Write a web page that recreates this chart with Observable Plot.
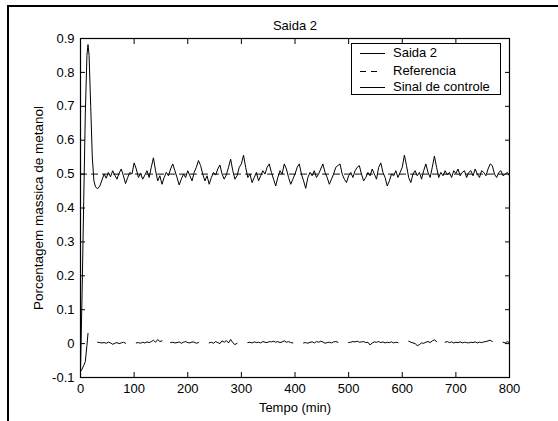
<!DOCTYPE html>
<html>
<head>
<meta charset="utf-8">
<script src="https://cdn.jsdelivr.net/npm/d3@7"></script>
<script src="https://cdn.jsdelivr.net/npm/@observablehq/plot@0.6"></script>
<style>
  html, body { margin: 0; padding: 0; background: white; }
  #wrap { position: relative; width: 558px; height: 421px; overflow: hidden; font-family: "Liberation Sans", Arial, sans-serif; }
  #frameTop { position: absolute; left: 7px; top: 5px; width: 560px; height: 2px; background: black; }
  #frameLeft { position: absolute; left: 7px; top: 5px; width: 2px; height: 430px; background: black; }
  #legend { position: absolute; left: 351px; top: 43px; width: 150px; height: 52px; box-sizing: border-box; border: 1px solid black; background: white; }
  #legend .row { position: absolute; left: 0; height: 16px; width: 148px; }
  #legend svg { position: absolute; left: 7px; top: 0; }
  #legend span { position: absolute; left: 41px; top: 0; font-size: 13px; line-height: 16px; white-space: nowrap; color: black; }
</style>
</head>
<body>
<div id="wrap"></div>
<script>
// ---- data ----
const chartTitle = "Saida 2";
const xLabel = "Tempo (min)";
const yLabel = "Porcentagem massica de metanol";
const seriesNames = ["Saida 2", "Referencia", "Sinal de controle"];

const xTicks = [0, 100, 200, 300, 400, 500, 600, 700, 800];
const xTickLabels = ["0", "100", "200", "300", "400", "500", "600", "700", "800"];
const yTicks = [-0.1, 0, 0.1, 0.2, 0.3, 0.4, 0.5, 0.6, 0.7, 0.8, 0.9];
const yTickLabels = ["-0.1", "0", "0.1", "0.2", "0.3", "0.4", "0.5", "0.6", "0.7", "0.8", "0.9"];

const timeEarly = [0, 3, 6, 9, 12, 14, 16, 19, 22, 25, 28, 32, 36, 40];
const timeGrid = d3.range(44, 801, 4);
const time = timeEarly.concat(timeGrid);

const saida2 = [
  -0.08, 0.15, 0.42, 0.68, 0.85, 0.882, 0.85, 0.70, 0.55, 0.48, 0.462, 0.457, 0.465, 0.482,
  0.500, 0.488, 0.505, 0.492, 0.510, 0.497, 0.485, 0.503, 0.515, 0.495,
  0.472, 0.490, 0.505, 0.500, 0.533, 0.515, 0.490, 0.502, 0.485, 0.497,
  0.510, 0.490, 0.520, 0.548, 0.510, 0.480, 0.495, 0.470, 0.490, 0.505,
  0.495, 0.515, 0.530, 0.510, 0.490, 0.468, 0.485, 0.500, 0.490, 0.510,
  0.495, 0.480, 0.505, 0.520, 0.540, 0.525, 0.500, 0.480, 0.495, 0.470,
  0.490, 0.505, 0.497, 0.515, 0.527, 0.500, 0.485, 0.498, 0.520, 0.544,
  0.510, 0.485, 0.495, 0.520, 0.530, 0.556, 0.520, 0.490, 0.500, 0.475,
  0.490, 0.505, 0.480, 0.495, 0.510, 0.500, 0.520, 0.530, 0.505, 0.485,
  0.465, 0.490, 0.510, 0.500, 0.530, 0.515, 0.490, 0.470, 0.485, 0.500,
  0.520, 0.530, 0.500, 0.480, 0.458, 0.490, 0.505, 0.495, 0.510, 0.490,
  0.500, 0.515, 0.530, 0.505, 0.490, 0.470, 0.485, 0.500, 0.520, 0.525,
  0.530, 0.500, 0.485, 0.475, 0.495, 0.505, 0.490, 0.510, 0.520, 0.525,
  0.500, 0.480, 0.490, 0.505, 0.495, 0.515, 0.500, 0.485, 0.520, 0.533,
  0.505, 0.490, 0.465, 0.480, 0.500, 0.495, 0.510, 0.490, 0.505, 0.520,
  0.556, 0.525, 0.490, 0.475, 0.500, 0.510, 0.495, 0.505, 0.485, 0.510,
  0.530, 0.505, 0.490, 0.520, 0.553, 0.520, 0.490, 0.505, 0.495, 0.510,
  0.498, 0.505, 0.490, 0.510, 0.502, 0.515, 0.495, 0.505, 0.510, 0.490,
  0.505, 0.510, 0.495, 0.515, 0.500, 0.490, 0.510, 0.505, 0.495, 0.515,
  0.530, 0.525, 0.500, 0.490, 0.505, 0.510, 0.495, 0.500, 0.505, 0.495
];

const referencia = time.map(() => 0.5);

const controle = [
  -0.083, -0.075, -0.065, -0.053, -0.005, 0.03, null, null, null, null, null, 0.004, 0.003, 0.002,
  0.003, 0.001, 0.004, 0.002, -0.002, 0.001, 0.003, 0.000, 0.002, 0.004,
  0.001, null, null, null, null, 0.002, 0.003, 0.001, 0.004, 0.002,
  0.005, 0.003, 0.006, 0.010, 0.004, 0.012, 0.006, 0.008, null, null,
  null, 0.003, 0.004, 0.002, 0.003, 0.005, 0.001, 0.004, 0.006, 0.003,
  0.002, 0.005, 0.004, 0.001, 0.003, null, null, null, null, 0.002,
  0.004, 0.001, 0.006, 0.003, 0.000, 0.008, 0.004, 0.009, 0.002, 0.012,
  0.003, -0.003, 0.001, null, null, null, null, 0.003, 0.004, 0.002,
  0.005, 0.003, 0.004, 0.002, 0.006, 0.004, 0.003, 0.006, 0.005, 0.007,
  0.004, 0.006, 0.003, 0.005, 0.008, 0.004, 0.006, 0.003, 0.002, null,
  null, null, null, 0.002, 0.003, 0.001, 0.004, 0.005, 0.002, 0.006,
  0.004, 0.007, 0.005, 0.001, 0.003, 0.004, 0.002, 0.005, 0.006, 0.004,
  null, null, null, null, 0.003, 0.004, 0.006, 0.005, 0.007, 0.004,
  0.005, 0.006, 0.003, 0.004, -0.004, 0.002, 0.005, 0.004, 0.006, 0.003,
  0.005, 0.002, 0.004, 0.003, 0.005, 0.002, 0.004, 0.003, null, null,
  null, null, 0.007, 0.004, 0.002, 0.000, -0.006, -0.003, 0.002, 0.001,
  0.004, 0.006, 0.003, 0.008, 0.011, 0.006, null, null, null, 0.004,
  0.006, 0.003, 0.005, 0.002, 0.004, 0.003, 0.005, 0.002, 0.004, 0.003,
  0.002, 0.004, 0.003, 0.005, 0.002, 0.004, 0.003, 0.005, 0.006, 0.008,
  0.010, 0.006, null, null, null, null, 0.004, 0.002, 0.006, 0.003
];

// ---- build ----
const rows = time.map((t, i) => ({t, s: saida2[i], r: referencia[i], c: controle[i]}));
const fmtX = d => xTickLabels[xTicks.indexOf(d)];
const fmtY = d => yTickLabels[yTicks.findIndex(v => Math.abs(v - d) < 1e-9)];

const chart = Plot.plot({
  width: 558,
  height: 421,
  marginLeft: 80,
  marginRight: 49,
  marginTop: 38,
  marginBottom: 44,
  style: {fontFamily: "'Liberation Sans', Arial, sans-serif", fontSize: "13px", color: "black", background: "white", overflow: "visible"},
  x: {domain: [0, 800]},
  y: {domain: [-0.1, 0.9]},
  marks: [
    Plot.line(rows, {x: "t", y: "r", stroke: "black", strokeWidth: 1, strokeDasharray: "6,5"}),
    Plot.line(rows, {x: "t", y: "s", stroke: "black", strokeWidth: 1}),
    Plot.line(rows, {x: "t", y: "c", stroke: "black", strokeWidth: 1}),
    Plot.frame({stroke: "black", strokeWidth: 1.2}),
    Plot.axisX({anchor: "bottom", ticks: xTicks, tickSize: -5, tickPadding: 11, tickFormat: fmtX, label: null}),
    Plot.axisX({anchor: "top", ticks: xTicks, tickSize: -5, tickFormat: () => "", label: null}),
    Plot.axisY({anchor: "left", ticks: yTicks, tickSize: -5, tickPadding: 11, tickFormat: fmtY, label: null}),
    Plot.axisY({anchor: "right", ticks: yTicks, tickSize: -5, tickFormat: () => "", label: null}),
    Plot.text([chartTitle], {frameAnchor: "top", dy: -13, fontSize: 13, lineAnchor: "middle"}),
    Plot.text([xLabel], {frameAnchor: "bottom", dy: 25, fontSize: 13, lineAnchor: "top"}),
    Plot.text([yLabel], {frameAnchor: "left", dx: -42, rotate: -90, fontSize: 13.5, lineAnchor: "middle", textAnchor: "middle"})
  ]
});

const wrap = document.getElementById("wrap");
wrap.appendChild(chart);

const ft = document.createElement("div"); ft.id = "frameTop"; wrap.appendChild(ft);
const fl = document.createElement("div"); fl.id = "frameLeft"; wrap.appendChild(fl);

// legend
const legend = document.createElement("div");
legend.id = "legend";
const sampleX = [[1, 26], [1, 18], [1, 26]];
const dashes = [null, "6,5", null];
const rowTops = [1, 19, 35];
seriesNames.forEach((name, i) => {
  const row = document.createElement("div");
  row.className = "row";
  row.style.top = rowTops[i] + "px";
  row.innerHTML = `<svg width="28" height="16"><line x1="${sampleX[i][0]}" x2="${sampleX[i][1]}" y1="8.5" y2="8.5" stroke="black" stroke-width="1" ${dashes[i] ? `stroke-dasharray="${dashes[i]}"` : ""}/></svg><span>${name}</span>`;
  legend.appendChild(row);
});
wrap.appendChild(legend);
</script>
</body>
</html>
